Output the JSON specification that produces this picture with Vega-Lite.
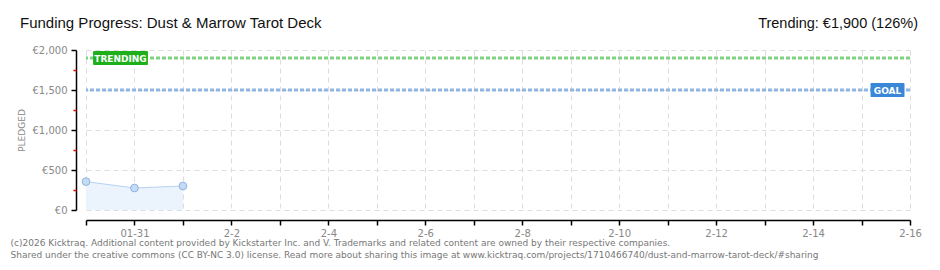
{
  "$schema": "https://vega.github.io/schema/vega-lite/v6.json",
  "width": 824,
  "height": 160,
  "autosize": {"type": "none"},
  "padding": {"left": 86, "top": 50, "right": 30, "bottom": 60},
  "background": "white",
  "config": {"view": {"stroke": null}, "font": "Liberation Sans"},
  "datasets": {
    "pledges": [
      {"date": "2026-01-30T00:00:00Z", "pledged": 355},
      {"date": "2026-01-31T00:00:00Z", "pledged": 275},
      {"date": "2026-02-01T00:00:00Z", "pledged": 300}
    ],
    "refs": [
      {"label": "TRENDING", "amount": 1900, "top": 1987, "bottom": 1813, "start": "2026-01-30T03:30:00Z", "end": "2026-01-31T06:40:00Z", "mid": "2026-01-30T17:05:00Z"},
      {"label": "GOAL", "amount": 1500, "top": 1587, "bottom": 1413, "start": "2026-02-15T04:28:00Z", "end": "2026-02-15T21:17:00Z", "mid": "2026-02-15T12:52:00Z"}
    ],
    "headings": [
      {"date": "2026-01-30T00:00:00Z", "amount": 2000, "side": "left", "text": "Funding Progress: Dust & Marrow Tarot Deck"},
      {"date": "2026-02-16T00:00:00Z", "amount": 2000, "side": "right", "text": "Trending: €1,900 (126%)"}
    ]
  },
  "resolve": {"axis": {"y": "independent", "x": "independent"}, "scale": {"color": "independent"}},
  "layer": [
    {
      "data": {"name": "pledges"},
      "mark": {"type": "area", "color": "#ebf3fc", "opacity": 1},
      "encoding": {
        "x": {
          "field": "date",
          "type": "temporal",
          "scale": {"type": "utc", "domain": [{"year": 2026, "month": 1, "date": 30, "utc": true}, {"year": 2026, "month": 2, "date": 16, "utc": true}]},
          "axis": {
            "values": [
              {"year": 2026, "month": 1, "date": 30, "utc": true},
              {"year": 2026, "month": 1, "date": 31, "utc": true},
              {"year": 2026, "month": 2, "date": 1, "utc": true},
              {"year": 2026, "month": 2, "date": 2, "utc": true},
              {"year": 2026, "month": 2, "date": 3, "utc": true},
              {"year": 2026, "month": 2, "date": 4, "utc": true},
              {"year": 2026, "month": 2, "date": 5, "utc": true},
              {"year": 2026, "month": 2, "date": 6, "utc": true},
              {"year": 2026, "month": 2, "date": 7, "utc": true},
              {"year": 2026, "month": 2, "date": 8, "utc": true},
              {"year": 2026, "month": 2, "date": 9, "utc": true},
              {"year": 2026, "month": 2, "date": 10, "utc": true},
              {"year": 2026, "month": 2, "date": 11, "utc": true},
              {"year": 2026, "month": 2, "date": 12, "utc": true},
              {"year": 2026, "month": 2, "date": 13, "utc": true},
              {"year": 2026, "month": 2, "date": 14, "utc": true},
              {"year": 2026, "month": 2, "date": 15, "utc": true},
              {"year": 2026, "month": 2, "date": 16, "utc": true}
            ],
            "labelExpr": "utcmonth(datum.value) == 0 && utcdate(datum.value) == 31 ? '01-31' : (utcmonth(datum.value) == 1 && utcdate(datum.value) % 2 == 0 ? (utcmonth(datum.value) + 1) + '-' + utcdate(datum.value) : '')",
            "offset": 10,
            "domainColor": "#000",
            "domainWidth": 1.5,
            "tickColor": "#000",
            "tickSize": 5,
            "tickWidth": 1.5,
            "labelColor": "#888",
            "labelFontSize": 10,
            "labelPadding": 3,
            "labelFont": "DejaVu Sans",
            "labelFlush": false,
            "grid": true,
            "gridColor": "#dddddd",
            "gridDash": [5, 4],
            "title": [
              "(c)2026 Kicktraq. Additional content provided by Kickstarter Inc. and V. Trademarks and related content are owned by their respective companies.",
              "Shared under the creative commons (CC BY-NC 3.0) license. Read more about sharing this image at www.kicktraq.com/projects/1710466740/dust-and-marrow-tarot-deck/#sharing"
            ],
            "titleX": -76,
            "titleY": 18,
            "titleAlign": "left",
            "titleBaseline": "top",
            "titleAnchor": "start",
            "titleFontSize": 9,
            "titleFontWeight": "normal",
            "titleFont": "DejaVu Sans",
            "titleColor": "#777",
            "titleLineHeight": 12
          }
        },
        "y": {
          "field": "pledged",
          "type": "quantitative",
          "scale": {"domain": [0, 2000], "nice": false},
          "axis": {
            "orient": "left",
            "values": [0, 500, 1000, 1500, 2000],
            "labelExpr": "'€' + format(datum.value, ',')",
            "offset": 10,
            "domainColor": "#000",
            "domainWidth": 1.5,
            "tickColor": "#000",
            "tickSize": 5,
            "tickWidth": 1.5,
            "labelColor": "#888",
            "labelFontSize": 10,
            "labelFont": "DejaVu Sans",
            "labelPadding": 4,
            "grid": true,
            "gridColor": "#dddddd",
            "gridDash": [5, 4],
            "title": "PLEDGED",
            "titleColor": "#888",
            "titleFontSize": 9,
            "titleFontWeight": "normal",
            "titleFont": "DejaVu Sans",
            "titleX": -50,
            "titleY": 80,
            "titleAlign": "center"
          }
        }
      }
    },
    {
      "data": {"name": "pledges"},
      "mark": {"type": "line", "color": "#b7d3f2", "strokeWidth": 1},
      "encoding": {
        "x": {"field": "date", "type": "temporal", "axis": null},
        "y": {
          "field": "pledged",
          "type": "quantitative",
          "axis": {
            "orient": "left",
            "values": [250, 750, 1250, 1750],
            "offset": 10,
            "domain": false,
            "labels": false,
            "grid": false,
            "tickColor": "#e00000",
            "tickSize": 3,
            "tickWidth": 1.5,
            "title": null
          }
        }
      }
    },
    {
      "data": {"name": "pledges"},
      "mark": {"type": "point", "filled": true, "fill": "#c4dbf5", "stroke": "#8fb4e0", "strokeWidth": 1, "size": 60, "opacity": 1},
      "encoding": {
        "x": {"field": "date", "type": "temporal", "axis": null},
        "y": {"field": "pledged", "type": "quantitative", "axis": null}
      }
    },
    {
      "data": {"name": "refs"},
      "mark": {"type": "rule", "strokeWidth": 3, "strokeDash": [4, 2]},
      "encoding": {
        "y": {"field": "amount", "type": "quantitative", "axis": null},
        "color": {"field": "label", "type": "nominal", "scale": {"domain": ["TRENDING", "GOAL"], "range": ["#7fd27f", "#90b6e2"]}, "legend": null}
      }
    },
    {
      "data": {"name": "refs"},
      "mark": {"type": "rect", "cornerRadius": 1},
      "encoding": {
        "x": {"field": "start", "type": "temporal", "axis": null},
        "x2": {"field": "end"},
        "y": {"field": "top", "type": "quantitative", "axis": null},
        "y2": {"field": "bottom"},
        "color": {"field": "label", "type": "nominal", "scale": {"domain": ["TRENDING", "GOAL"], "range": ["#1db01a", "#3a87d8"]}, "legend": null}
      }
    },
    {
      "data": {"name": "refs"},
      "mark": {"type": "text", "color": "white", "fontSize": 9, "font": "DejaVu Sans", "fontWeight": "bold", "align": "center", "baseline": "middle", "dy": 0.5},
      "encoding": {
        "x": {"field": "mid", "type": "temporal", "axis": null},
        "y": {"field": "amount", "type": "quantitative", "axis": null},
        "text": {"field": "label"}
      }
    },
    {
      "data": {"name": "headings"},
      "transform": [{"filter": "datum.side == 'left'"}],
      "mark": {"type": "text", "color": "#111", "fontSize": 15, "font": "Liberation Sans", "align": "left", "baseline": "alphabetic", "dx": -66, "dy": -22},
      "encoding": {
        "x": {"field": "date", "type": "temporal", "axis": null},
        "y": {"field": "amount", "type": "quantitative", "axis": null},
        "text": {"field": "text"}
      }
    },
    {
      "data": {"name": "headings"},
      "transform": [{"filter": "datum.side == 'right'"}],
      "mark": {"type": "text", "color": "#111", "fontSize": 14.5, "font": "Liberation Sans", "align": "right", "baseline": "alphabetic", "dx": 8, "dy": -22},
      "encoding": {
        "x": {"field": "date", "type": "temporal", "axis": null},
        "y": {"field": "amount", "type": "quantitative", "axis": null},
        "text": {"field": "text"}
      }
    }
  ]
}
